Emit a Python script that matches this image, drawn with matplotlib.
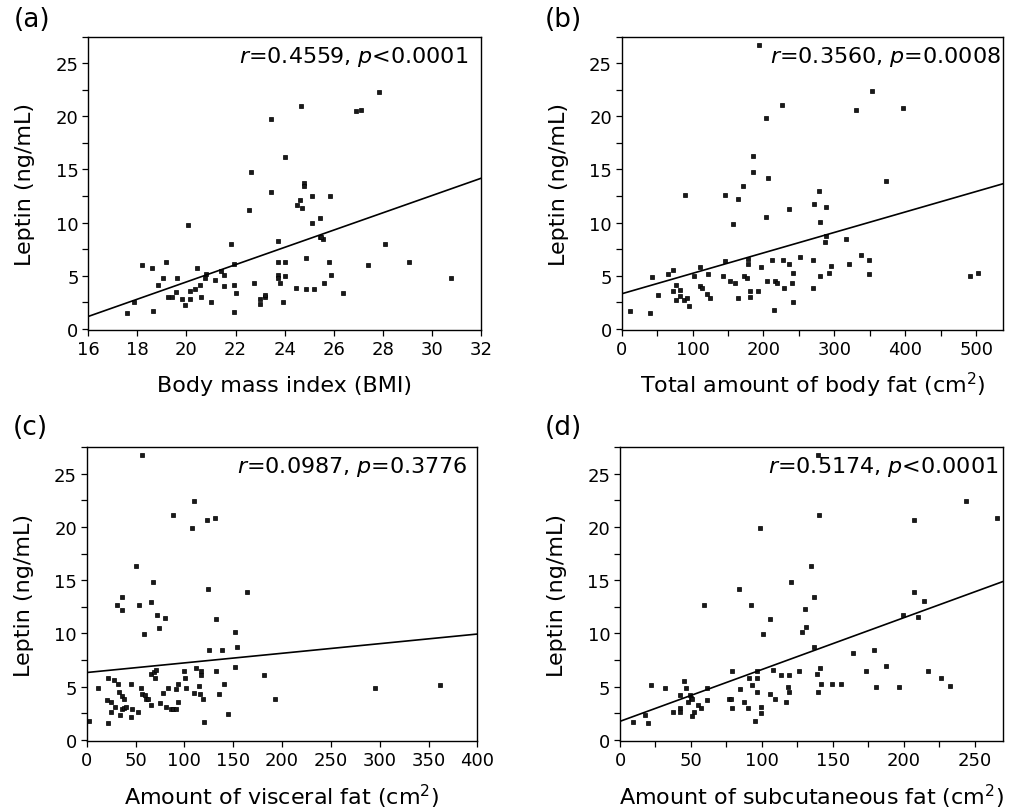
import numpy as np
import matplotlib
matplotlib.use("Agg")
import matplotlib.pyplot as plt
from matplotlib.ticker import MultipleLocator

plt.rcParams['font.family'] = ['DejaVu Sans']
plt.rcParams['mathtext.fontset'] = 'dejavusans'

# ---------------- data ----------------
bmi = [17.56, 17.86, 18.18, 18.58, 18.62, 18.85, 19.04, 19.16, 19.23, 19.43, 19.57, 19.63, 19.82, 19.96,
       20.05, 20.15, 20.15, 20.34, 20.42, 20.56, 20.61, 20.77, 20.81, 21.0, 21.15, 21.41, 21.54, 21.54,
       21.80, 21.94, 21.94, 21.95, 22.01, 22.55, 22.62, 22.74, 23.0, 23.0, 23.2, 23.2, 23.43, 23.43,
       23.73, 23.73, 23.73, 23.73, 23.81, 23.93, 24.0, 24.0, 24.03,
       24.65, 24.8, 24.8, 25.1, 25.84, 24.64, 24.49, 24.71, 25.1, 25.44, 25.43, 25.55, 25.5, 26.92,
       27.12, 27.84, 28.07, 24.88, 25.82, 27.4, 29.06, 25.87, 25.59, 24.46, 24.87, 25.19, 26.39, 30.78]
leptin_a = [1.47, 2.53, 6.03, 5.69, 1.63, 4.16, 4.78, 6.31, 2.97, 2.97, 3.44, 4.78, 2.81, 2.19,
            9.81, 2.81, 3.56, 3.72, 5.69, 4.16, 2.97, 4.78, 5.13, 2.53, 4.63, 5.41, 5.09, 4.03,
            8.0, 4.16, 1.59, 6.06, 3.41, 11.19, 14.72, 4.34, 2.34, 2.78, 2.97, 3.15, 19.72, 12.88,
            8.28, 6.31, 5.09, 4.78, 4.34, 2.53, 6.31, 4.94, 16.19,
            20.97, 13.75, 13.4, 12.53, 12.53, 12.13, 11.66, 11.34, 9.97, 10.44, 8.6, 8.45, 8.65, 20.47,
            20.6, 22.28, 7.97, 6.66, 6.28, 6.03, 6.28, 5.09, 4.34, 3.84, 3.72, 3.72, 3.41, 4.75]

total_fat = [12.3, 39.6, 42.9, 51.4, 65.1, 72.2, 71.7, 76.9, 81.6, 76.9, 81.6, 87.7, 92.0, 94.8, 88.7,
             101.9, 110.8, 110.0, 113.0, 122.2, 120.3, 125.0, 146.2, 145.8, 143.4, 152.4, 159.4, 157.1,
             164.6, 171.7, 164.2, 173.1, 176.4, 178.3, 178.3, 181.1, 181.6, 185.8, 185.8, 192.0, 196.2,
             193.4, 204.2, 203.8, 206.1, 205.7, 212.7, 215.0, 217.0, 219.3, 225.5, 226.9, 228.8, 235.8,
             235.8, 241.5, 240.6, 241.5,
             251.9, 270.8, 277.8, 288.7, 279.7, 288.7, 286.8, 270.3, 270.3, 279.2, 292.9, 295.8, 316.5,
             321.2, 331.1, 337.7, 349.5, 349.5, 352.8, 373.1, 396.7, 491.0, 502.4]
leptin_b = [1.66, 1.5, 4.86, 3.17, 5.17, 5.49, 3.51, 4.14, 3.67, 2.66, 3.04, 2.66, 2.88, 2.13, 12.63,
            4.92, 5.8, 4.0, 3.8, 5.17, 3.26, 2.88, 12.63, 6.36, 4.92, 4.45, 4.29, 9.87,
            12.23, 13.42, 2.88, 4.92, 4.73, 6.58, 6.11, 3.51, 2.98, 14.8, 16.3, 3.51, 5.8,
            26.7, 19.81, 10.53, 14.2, 4.45, 6.43, 1.72, 4.45, 4.33, 21.03, 6.43, 3.86, 11.29,
            6.11, 5.24, 4.33, 2.51,
            6.74, 11.76, 13.0, 11.47, 10.09, 8.75, 8.12, 6.43, 3.86, 4.95, 5.24, 5.86, 8.43,
            6.14, 20.6, 6.93, 6.43, 5.11, 22.4, 13.89, 20.75, 4.92, 5.24]

visceral_fat = [2.7, 11.6, 21.5, 21.9, 20.5, 24.6, 25.3, 27.7, 29.1, 31.8, 32.8, 34.2, 35.9, 36.6, 38.6,
                38.6, 40.0, 31.1, 35.9, 35.9, 45.1, 45.1, 46.8, 50.6, 53.0, 54.0, 55.7, 56.8, 57.1, 59.1,
                59.8, 60.9, 62.6, 65.6, 65.6, 66.0, 67.4, 68.4, 70.1, 70.8, 72.1, 74.2, 74.9, 78.6, 80.3,
                81.4, 83.4, 86.2, 88.2, 91.6, 87.9, 91.6, 93.3, 93.3, 99.1, 100.2, 101.9, 107.7, 109.4,
                110.1, 111.8, 115.2, 116.9, 116.2, 116.9, 118.6, 119.7, 122.7, 124.1, 124.8, 131.6, 132.0,
                132.3, 135.0, 138.8, 140.2, 144.6, 151.8, 153.5, 151.5, 164.1, 181.9, 193.2, 295.2, 361.7]
leptin_c = [1.73, 4.91, 1.54, 5.85, 3.71, 3.58, 2.61, 5.63, 3.11, 5.22, 4.5, 2.3, 4.12, 2.86, 3.87,
            3.02, 3.08, 12.7, 13.46, 12.23, 5.22, 2.17, 2.92, 16.38, 2.61, 12.7, 4.91, 26.82, 4.28, 9.97,
            4.18, 3.87, 3.87, 6.16, 3.24, 12.99, 14.87, 6.38, 5.85, 6.57, 11.76, 10.53, 3.49, 4.43, 11.45,
            3.08, 4.91, 2.92, 2.92, 2.92, 21.13, 4.75, 5.22, 3.55, 6.45, 5.85, 4.91, 19.91, 22.48,
            4.43, 6.76, 5.06, 6.45, 4.28, 6.13, 3.87, 1.67, 20.69, 14.21, 8.46, 20.82, 6.48,
            11.32, 4.28, 8.43, 5.22, 2.45, 10.09, 8.74, 6.86, 13.9, 6.13, 3.87, 4.87, 5.16]

subcut_fat = [8.9, 17.9, 20.0, 21.7, 31.8, 37.4, 42.1, 42.1, 42.1, 45.4, 46.6, 47.8, 49.0, 50.1, 51.1,
              51.1, 52.3, 55.3, 57.0, 59.3, 61.4, 61.4, 76.5, 77.9, 78.9, 78.9, 83.8, 84.5, 87.1, 90.2,
              90.6, 92.0, 93.0, 95.1, 96.3, 96.5, 96.5, 98.9, 99.6, 99.6, 101.0, 105.7, 105.7, 108.0,
              109.2, 113.7, 116.8, 118.4, 119.1, 119.4, 120.8, 125.9, 128.3, 130.9, 130.7, 134.4, 136.8,
              136.5, 138.6, 141.0, 139.6, 142.0, 139.3, 140.5, 149.8, 155.7, 164.0, 173.1, 179.3, 180.2,
              187.3, 197.0, 199.4, 207.4, 207.4, 209.8, 214.2, 217.3, 226.2, 232.8, 243.9, 265.5]
leptin_d = [1.70, 2.33, 1.54, 5.19, 4.91, 2.61, 2.96, 2.61, 4.18, 5.5, 4.91, 3.55, 4.18, 3.9, 3.84,
            2.23, 2.61, 3.24, 2.96, 12.67, 4.91, 3.71, 3.84, 3.84, 6.45, 2.96, 14.21, 4.78, 3.55, 2.96,
            5.82, 12.67, 5.19, 1.73, 4.5, 6.45, 5.82, 19.87, 3.11, 2.52, 9.94, 11.32, 4.31, 6.6,
            3.84, 6.13, 3.55, 4.97, 6.13, 4.47, 14.84, 6.45, 10.13, 10.57, 12.26, 16.38, 13.46,
            8.74, 6.16, 6.76, 4.5, 5.25, 26.79, 21.13, 5.25, 5.25, 8.14, 6.48, 8.46, 4.94,
            6.92, 4.94, 11.76, 20.66, 13.93, 11.54, 13.02, 6.48, 5.85, 5.06, 22.48, 20.82]

# regression lines: (intercept, slope)
fit_a = (-11.85, 0.813)
fit_b = (3.29, 0.01926)
fit_c = (6.32, 0.00905)
fit_d = (1.73, 0.0487)

stats_a = "$r$=0.4559, $p$<0.0001"
stats_b = "$r$=0.3560, $p$=0.0008"
stats_c = "$r$=0.0987, $p$=0.3776"
stats_d = "$r$=0.5174, $p$<0.0001"

xlabels = ["Body mass index (BMI)", "Total amount of body fat (cm$^{2}$)",
           "Amount of visceral fat (cm$^{2}$)", "Amount of subcutaneous fat (cm$^{2}$)"]
ylabel = "Leptin (ng/mL)"
letters = ["(a)", "(b)", "(c)", "(d)"]

# ---------------- figure ----------------
W, H = 1012, 812
fig = plt.figure(figsize=(W / 100, H / 100), dpi=100)

def rect(l, r, t, b):
    return [l / W, 1 - b / H, (r - l) / W, (b - t) / H]

panels = [
    dict(rect=rect(88.3, 481, 37.7, 331), x=bmi, y=leptin_a, fit=fit_a, stats=stats_a,
         xlim=(16, 32), major=2, minor=None, ann=(0.967, 0.934), let=(32, 20), ylx=-0.16),
    dict(rect=rect(621.7, 1003, 37.7, 331), x=total_fat, y=leptin_b, fit=fit_b, stats=stats_b,
         xlim=(0, 538), major=100, minor=50, ann=(0.995, 0.934), let=(563, 20), ylx=-0.165),
    dict(rect=rect(86.7, 477.5, 448.3, 742), x=visceral_fat, y=leptin_c, fit=fit_c, stats=stats_c,
         xlim=(0, 400), major=50, minor=None, ann=(0.975, 0.938), let=(30, 428), ylx=-0.16),
    dict(rect=rect(620, 1003, 448.3, 742), x=subcut_fat, y=leptin_d, fit=fit_d, stats=stats_d,
         xlim=(0, 270), major=50, minor=25, ann=(0.987, 0.938), let=(563, 428), ylx=-0.165),
]

for i, p in enumerate(panels):
    ax = fig.add_axes(p['rect'])
    ax.plot(p['x'], p['y'], linestyle='none', marker='s', markersize=3.3,
            markerfacecolor='#1a1a1a', markeredgecolor='black', markeredgewidth=0.5)
    xs = np.array(p['xlim'], dtype=float)
    a, b = p['fit']
    ax.plot(xs, a + b * xs, color='black', lw=1.2)
    ax.set_xlim(*p['xlim'])
    ax.set_ylim(-0.12, 27.5)
    ax.xaxis.set_major_locator(MultipleLocator(p['major']))
    if p['minor']:
        ax.xaxis.set_minor_locator(MultipleLocator(p['minor']))
    ax.yaxis.set_major_locator(MultipleLocator(5))
    ax.yaxis.set_minor_locator(MultipleLocator(2.5))
    ax.tick_params(axis='both', which='both', direction='out', length=4, width=0.9,
                   labelsize=13, pad=3, top=False, right=False)
    for s in ax.spines.values():
        s.set_linewidth(1.0)
        s.set_color('black')
    ax.set_xlabel(xlabels[i], fontsize=16)
    ax.xaxis.label.set_va('center')
    ax.xaxis.set_label_coords(0.5, -0.187)
    ax.set_ylabel(ylabel, fontsize=16)
    ax.yaxis.label.set_va('center')
    ax.yaxis.set_label_coords(p['ylx'], 0.5)
    ax.text(p['ann'][0], p['ann'][1], p['stats'], transform=ax.transAxes,
            ha='right', va='center', fontsize=16)
    fig.text(p['let'][0] / W, 1 - p['let'][1] / H, letters[i], fontsize=19,
             ha='center', va='center')

fig.savefig("out.png", dpi=100)
